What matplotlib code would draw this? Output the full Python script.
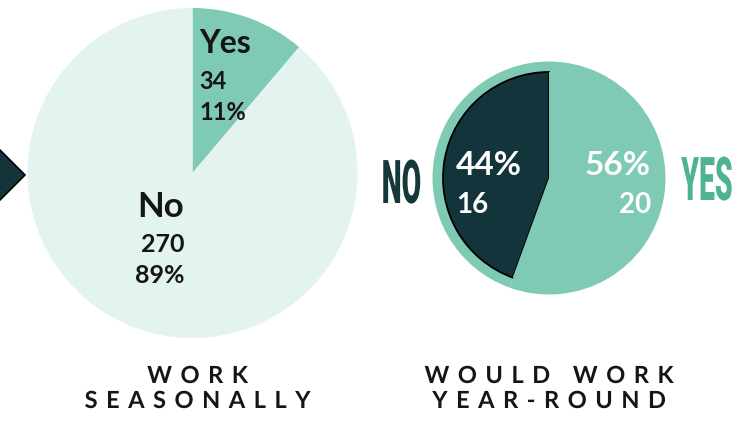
import numpy as np
import matplotlib
matplotlib.use("Agg")
import matplotlib.pyplot as plt
from matplotlib.patches import Polygon
from matplotlib.path import Path
from matplotlib.patheffects import AbstractPathEffect
from matplotlib.textpath import TextToPath
from matplotlib.transforms import IdentityTransform

# ---- survey answers -------------------------------------------------------
seasonal_labels = ["Yes", "No"]
seasonal_counts = [34, 270]

yearround_labels = ["NO", "YES"]
yearround_counts = [16, 20]

left_title = ["WORK", "SEASONALLY"]
right_title = ["WOULD WORK", "YEAR-ROUND"]

# ---- palette ---------------------------------------------------------------
PALE = "#E3F3EF"
TEAL = "#7ECAB4"
DARK = "#12343A"
GREEN = "#4DB394"
INK = "#151515"

W, H = 745, 423
FONT = "Lato"


class GlyphLayout(AbstractPathEffect):
    """Redraws a text's glyph outlines with a vertical stretch (about the
    baseline) and per-letter tracking (letter-spacing), keeping the ink
    horizontally centred."""

    _t2p = TextToPath()

    def __init__(self, text, stretch=1.0, tracking=0.0):
        super().__init__()
        self.text = text
        self.stretch = stretch
        self.tracking = tracking

    def _contours_per_char(self):
        prop = self.text.get_fontproperties()
        counts = []
        for ch in self.text.get_text():
            if ch.isspace():
                counts.append(0)
                continue
            _, codes = self._t2p.get_text_path(prop, ch)
            counts.append(int(np.sum(np.asarray(codes) == Path.MOVETO)))
        return counts

    def draw_path(self, renderer, gc, tpath, affine, rgbFace=None):
        path = affine.transform_path(tpath)
        verts = np.array(path.vertices, dtype=float)
        codes = path.codes
        if codes is None or len(codes) == 0:
            renderer.draw_path(gc, tpath, affine, rgbFace)
            return
        codes = np.asarray(codes)
        baseline = affine.get_matrix()[1, 2]
        verts[:, 1] = baseline + (verts[:, 1] - baseline) * self.stretch

        starts = list(np.flatnonzero(codes == Path.MOVETO)) + [len(codes)]
        counts = self._contours_per_char()
        n = len(counts)
        if self.tracking and sum(counts) == len(starts) - 1:
            k = 0
            for i, c in enumerate(counts):
                shift = (i - (n - 1) / 2.0) * self.tracking
                for _ in range(c):
                    a, b = starts[k], starts[k + 1]
                    verts[a:b, 0] += shift
                    k += 1
        renderer.draw_path(gc, Path(verts, codes), IdentityTransform(), rgbFace)


def Y(y_px):
    """Convert a top-down pixel row into the axes' y coordinate."""
    return H - y_px


fig = plt.figure(figsize=(W / 100, H / 100), dpi=100)
ax = fig.add_axes([0, 0, 1, 1])

# ---- left pie: work seasonally --------------------------------------------
left_center = (192.5, Y(173))
ax.pie(seasonal_counts, colors=[TEAL, PALE], startangle=90, counterclock=False,
       center=left_center, radius=165, wedgeprops=dict(linewidth=0))

s_total = sum(seasonal_counts)
s_pct = [round(100 * v / s_total) for v in seasonal_counts]

ax.text(199, Y(53), seasonal_labels[0], fontsize=23, fontweight="bold",
        family=FONT, color=INK, ha="left", va="baseline")
ax.text(199, Y(89), f"{seasonal_counts[0]}", fontsize=17, fontweight="bold",
        family=FONT, color=INK, ha="left", va="baseline")
ax.text(199, Y(120), f"{s_pct[0]}%", fontsize=17, fontweight="bold",
        family=FONT, color=INK, ha="left", va="baseline")

ax.text(184, Y(217), seasonal_labels[1], fontsize=25, fontweight="bold",
        family=FONT, color=INK, ha="right", va="baseline")
ax.text(184, Y(252), f"{seasonal_counts[1]}", fontsize=18, fontweight="bold",
        family=FONT, color=INK, ha="right", va="baseline")
ax.text(184, Y(283), f"{s_pct[1]}%", fontsize=18, fontweight="bold",
        family=FONT, color=INK, ha="right", va="baseline")

# ---- right pie: would work year-round -------------------------------------
right_center = (549, Y(178))
ax.pie(yearround_counts, colors=[TEAL, TEAL], startangle=90, counterclock=True,
       center=right_center, radius=116.5, wedgeprops=dict(linewidth=0))
inner, _ = ax.pie(yearround_counts, colors=[DARK, TEAL], startangle=90,
                  counterclock=True, center=right_center, radius=106,
                  wedgeprops=dict(linewidth=0))
inner[0].set_edgecolor("black")
inner[0].set_linewidth(1.3)

y_total = sum(yearround_counts)
y_pct = [round(100 * v / y_total) for v in yearround_counts]

ax.text(456, Y(175), f"{y_pct[0]}%", fontsize=24, fontweight="bold",
        family=FONT, color="white", ha="left", va="baseline")
ax.text(456, Y(213), f"{yearround_counts[0]}", fontsize=20, fontweight="bold",
        family=FONT, color="white", ha="left", va="baseline")
ax.text(651, Y(175), f"{y_pct[1]}%", fontsize=24, fontweight="bold",
        family=FONT, color="white", ha="right", va="baseline")
ax.text(651, Y(213), f"{yearround_counts[1]}", fontsize=20, fontweight="bold",
        family=FONT, color="white", ha="right", va="baseline")

# condensed side labels: small letters stretched upward from the baseline
no_txt = ax.text(401.5, Y(203), yearround_labels[0], fontsize=20.4,
                 fontweight="black", family="Roboto", color="#15393B",
                 ha="center", va="baseline")
no_txt.set_path_effects([GlyphLayout(no_txt, stretch=2.13)])
yes_txt = ax.text(707, Y(200), yearround_labels[1], fontsize=20.4,
                  fontweight="black", family="Roboto", color=GREEN,
                  ha="center", va="baseline")
yes_txt.set_path_effects([GlyphLayout(yes_txt, stretch=2.13)])

# ---- tracked titles under each pie ----------------------------------------
for cx, lines in [(197.5, left_title), (549, right_title)]:
    for base, line in zip([383, 408], lines):
        t = ax.text(cx, Y(base), line, fontsize=17, fontweight="bold",
                    family=FONT, color=INK, ha="center", va="baseline")
        t.set_path_effects([GlyphLayout(t, tracking=8.5)])

# ---- arrow marker at the left edge ----------------------------------------
ax.add_patch(Polygon([(25, Y(175)), (-1, Y(149)), (-27, Y(175)), (-1, Y(201))],
                     closed=True, facecolor=DARK, edgecolor="black",
                     linewidth=1.2))

ax.set_xlim(0, W)
ax.set_ylim(0, H)
ax.set_aspect("equal")
ax.axis("off")

fig.savefig("out.png", dpi=100, facecolor="white")
